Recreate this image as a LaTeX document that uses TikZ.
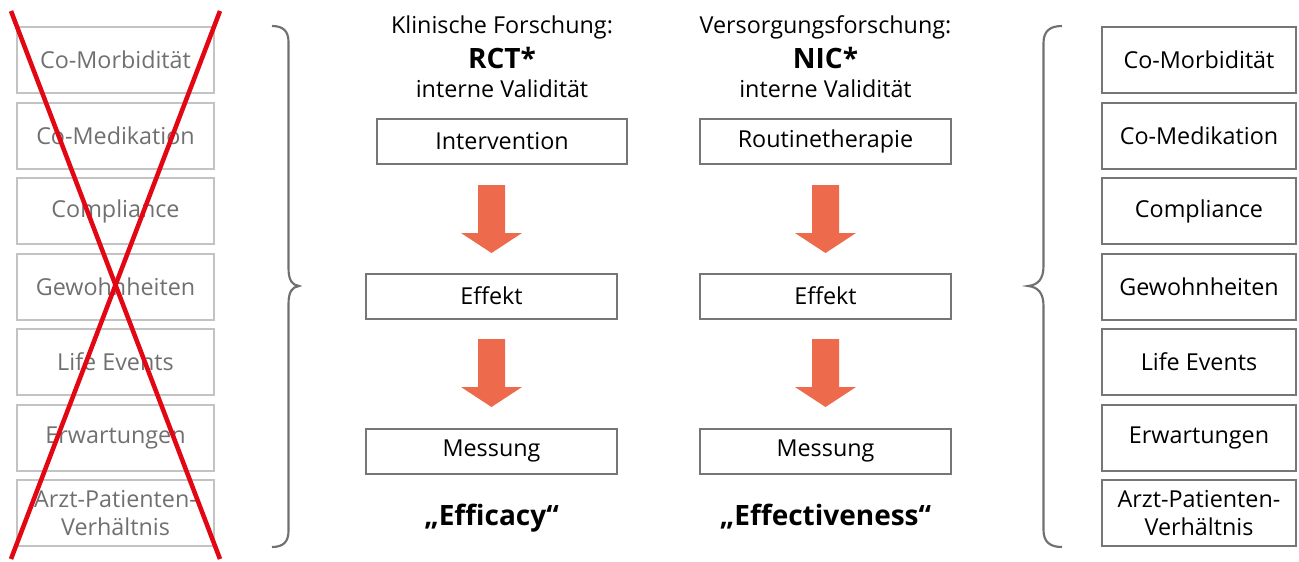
\documentclass[tikz,border=0pt]{standalone}
\usepackage{fontspec}
\setmainfont{Open Sans}
\definecolor{xred}{RGB}{227,6,19}
\definecolor{arrowc}{RGB}{238,106,76}
\definecolor{lightline}{RGB}{195,195,195}
\definecolor{lighttext}{RGB}{112,112,112}
\definecolor{darkline}{RGB}{118,118,118}
\definecolor{bracec}{RGB}{112,112,112}
\begin{document}
\begin{tikzpicture}[x=0.75pt,y=-0.75pt,
  every node/.style={inner sep=0pt, outer sep=0pt, align=center,
    font=\fontsize{17.5}{20}\selectfont},
  oldbox/.style={draw=lightline, line width=1.5pt, text=lighttext,
    minimum width=147.75pt, minimum height=49.5pt},
  factbox/.style={draw=darkline, line width=1.5pt, text=black,
    minimum width=145.5pt, minimum height=49.5pt},
  stepbox/.style={draw=darkline, line width=1.5pt,
    minimum width=188pt, minimum height=33.75pt},
  headtext/.style={anchor=base},
  bigtext/.style={anchor=base, font=\bfseries\fontsize{21}{24}\selectfont},
  redline/.style={draw=xred, line width=3.4pt},
  bracestyle/.style={draw=bracec, line width=1.6pt},
  downarrow/.pic={\fill[arrowc] (-13.5,0) -- (13.5,0) -- (13.5,48) -- (30.5,48)
      -- (0,68) -- (-30.5,48) -- (-13.5,48) -- cycle;}
]
\useasboundingbox (0,0) rectangle (1299,561);

% left crossed-out column
\node[oldbox] (l1) at (115.5,60)    {Co-Morbidität};
\node[oldbox] (l2) at (115.5,135.5) {Co-Medikation};
\node[oldbox] (l3) at (115.5,211)   {Compliance};
\node[oldbox] (l4) at (115.5,286.5) {Gewohnheiten};
\node[oldbox] (l5) at (115.5,362)   {Life Events};
\node[oldbox] (l6) at (115.5,437.5) {Erwartungen};
\node[oldbox, font=\fontsize{17.5}{21}\selectfont] (l7) at (115.5,513) {Arzt-Patienten-\\Verhältnis};

\draw[redline] (11,11) -- (220,559);
\draw[redline] (220,11) -- (11,559);

% left brace
\draw[bracestyle] (272,26) .. controls (283,26) and (288.5,31) .. (288.5,42)
  -- (288.5,268) .. controls (288.5,280) and (292,285) .. (299,286)
  .. controls (292,287) and (288.5,292) .. (288.5,304)
  -- (288.5,531) .. controls (288.5,542) and (283,547) .. (272,547);

% right brace
\draw[bracestyle] (1062,26) .. controls (1050,26) and (1043.5,31) .. (1043.5,43)
  -- (1043.5,266) .. controls (1043.5,279) and (1038,285) .. (1028,286)
  .. controls (1038,287) and (1043.5,293) .. (1043.5,306)
  -- (1043.5,530) .. controls (1043.5,542) and (1050,547) .. (1062,547);

% right column
\node[factbox] (r1) at (1199,60)    {Co-Morbidität};
\node[factbox] (r2) at (1199,135.5) {Co-Medikation};
\node[factbox] (r3) at (1199,211)   {Compliance};
\node[factbox] (r4) at (1199,286.5) {Gewohnheiten};
\node[factbox] (r5) at (1199,362)   {Life Events};
\node[factbox] (r6) at (1199,437.5) {Erwartungen};
\node[factbox, font=\fontsize{17.5}{21}\selectfont] (r7) at (1199,513) {Arzt-Patienten-\\Verhältnis};

% clinical research column
\node[headtext] (k1) at (502,33) {Klinische Forschung:};
\node[bigtext]  (k2) at (502,68) {RCT*};
\node[headtext] (k3) at (502,97) {interne Validität};
\node[stepbox] (kint) at (502,141.5) {Intervention};
\node[stepbox] (keff) at (491.5,296) {Effekt};
\node[stepbox] (kmes) at (491.5,451) {Messung};
\node[bigtext] (kres) at (491.5,525) {„Efficacy“};
\pic at (491.5,185) {downarrow};
\pic at (491.5,339) {downarrow};

% health services research column
\node[headtext] (v1) at (825.5,33) {Versorgungsforschung:};
\node[bigtext]  (v2) at (825.5,68) {NIC*};
\node[headtext] (v3) at (825.5,97) {interne Validität};
\node[stepbox] (vint) at (825.5,141.5) {Routinetherapie};
\node[stepbox] (veff) at (825.5,296) {Effekt};
\node[stepbox] (vmes) at (825.5,451) {Messung};
\node[bigtext] (vres) at (825.5,525) {„Effectiveness“};
\pic at (825.5,185) {downarrow};
\pic at (825.5,339) {downarrow};
\end{tikzpicture}
\end{document}
